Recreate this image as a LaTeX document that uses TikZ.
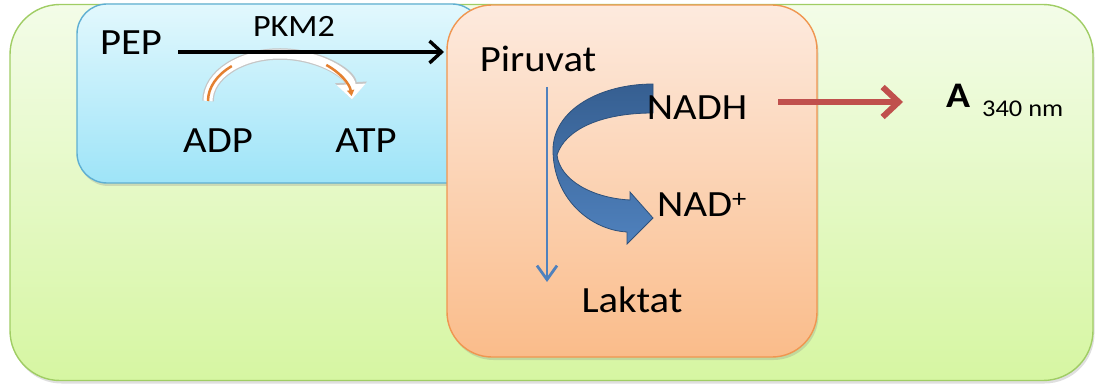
\documentclass[tikz,border=0pt]{standalone}
\usepackage{fontspec}
\setmainfont[FakeStretch=1.1]{Carlito}
\usetikzlibrary{arrows.meta,shadows}
\definecolor{greenTop}{RGB}{243,252,232}
\definecolor{greenBot}{RGB}{214,246,162}
\definecolor{greenLine}{RGB}{160,205,100}
\definecolor{blueTop}{RGB}{226,248,253}
\definecolor{blueBot}{RGB}{158,228,248}
\definecolor{blueLine}{RGB}{95,175,210}
\definecolor{orTop}{RGB}{253,234,222}
\definecolor{orBot}{RGB}{250,188,138}
\definecolor{orLine}{RGB}{240,150,80}
\definecolor{arrDark}{RGB}{54,95,145}
\definecolor{arrLight}{RGB}{79,129,189}
\definecolor{redArr}{RGB}{192,80,77}
\definecolor{orArc}{RGB}{228,128,48}
\begin{document}
\begin{tikzpicture}[x=1pt,y=-1pt,
  lbl/.style={anchor=base, inner sep=0pt, font=\fontsize{37}{42}\selectfont},
  panel/.style={rounded corners=#1, line width=1.4pt, inner sep=0pt,
    drop shadow={shadow xshift=1.5pt, shadow yshift=-3pt, opacity=0.25}},
]
\useasboundingbox (0,0) rectangle (1099,387);
% boxes
\node[panel=50pt, draw=greenLine, top color=greenTop, bottom color=greenBot,
  minimum width=1083pt, minimum height=376pt] (green) at (551.5,192.5) {};
\node[panel=30pt, draw=blueLine, top color=blueTop, bottom color=blueBot,
  minimum width=405pt, minimum height=179pt] (blue) at (279.5,93.5) {};
\node[panel=45pt, draw=orLine, top color=orTop, bottom color=orBot,
  minimum width=370pt, minimum height=352pt] (orange) at (632,181) {};
% labels
\node[lbl] (pep) at (131,55) {PEP};
\node[lbl, font=\fontsize{31}{35}\selectfont] (pkm) at (294,37) {PKM2};
\node[lbl] (adp) at (218,153) {ADP};
\node[lbl] (atp) at (366,153) {ATP};
\node[lbl] (pir) at (538,72) {Piruvat};
\node[lbl] (lak) at (632,312) {Laktat};
% ADP -> ATP arc
\coordinate (arcL) at (208,101);
\draw[gray!45, line width=11.5pt, -{Triangle[length=17pt,width=31pt]}] (arcL) arc[start angle=180, end angle=358, x radius=72, y radius=47];
\draw[white, line width=9pt, -{Triangle[length=15pt,width=28pt]}] (arcL) arc[start angle=180, end angle=358, x radius=72, y radius=47];
\draw[orArc, line width=2.5pt] (arcL) arc[start angle=180, end angle=228, x radius=72, y radius=47];
\draw[orArc, line width=2.5pt, -{Triangle[length=6pt,width=7pt]}] (326.3,65) arc[start angle=310, end angle=354, x radius=72, y radius=47];
% PEP -> Piruvat
\coordinate (pepOut) at (178,52);
\coordinate (pirIn) at (444,52);
\draw[line width=3.4pt, -{Straight Barb[length=12pt,width=22pt]}] (pepOut) -- (pirIn);
% Piruvat -> Laktat
\coordinate (pirDown) at (547,87);
\coordinate (lakUp) at (547,282);
\draw[arrLight, line width=2.8pt, -{Straight Barb[length=14pt,width=20pt]}] (pirDown) -- (lakUp);
% NADH -> NAD+ curved arrow
\path[draw=arrDark!85!black, line width=0.8pt, top color=arrDark, bottom color=arrLight]
 (653,84) .. controls (600,84) and (553,110) .. (553,150)
 .. controls (553,198) and (590,230) .. (627,232)
 -- (627,244) -- (653,218) -- (630,192) -- (630,200)
 .. controls (592,198) and (560,180) .. (557,155)
 .. controls (565,130) and (600,113) .. (653,113) -- cycle;
\node[lbl] (nadh) at (697,120) {NADH};
\node[lbl, anchor=base west] (nad) at (657,217) {NAD\textsuperscript{+}};
% NADH -> A340
\coordinate (nadhOut) at (778,102);
\coordinate (absIn) at (903,102);
\draw[redArr, line width=6pt, -{Straight Barb[length=16pt,width=30pt]}] (nadhOut) -- (absIn);
\node[lbl, anchor=base west, font=\fontsize{36}{40}\selectfont\bfseries] (abs) at (946,108) {A};
\node[lbl, anchor=base west, font=\fontsize{24}{28}\selectfont] (nm) at (982,117) {340 nm};
\end{tikzpicture}
\end{document}
